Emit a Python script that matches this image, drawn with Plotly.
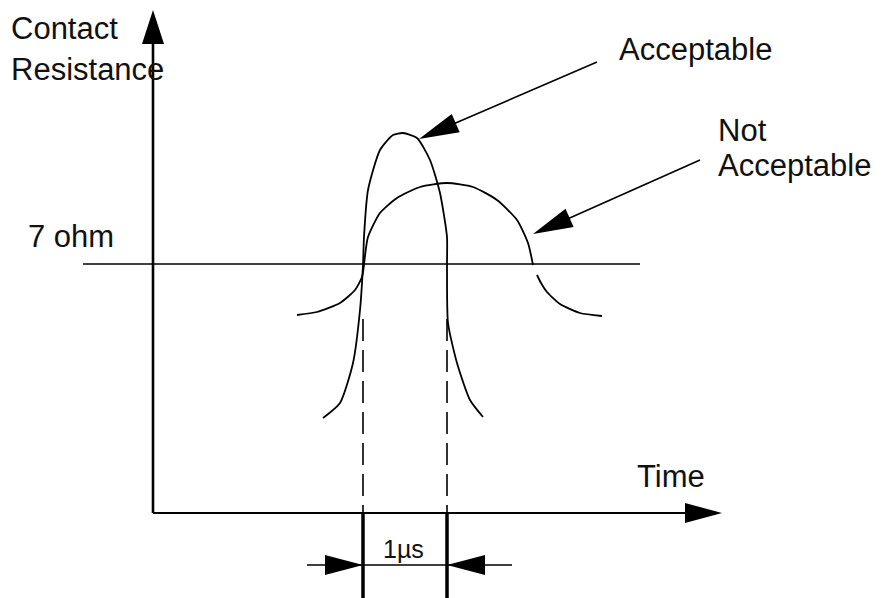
import math
import plotly.graph_objects as go

# diagram coordinates: x = time (px-like units), y = resistance (drawn top-down)
W, H = 882, 598
PAD = 8  # page body margin

# axes
origin_t, origin_r = 153, 513
y_axis_top = 10
x_axis_end = 722
threshold_r = 264
threshold_t = [83, 640]

# "Acceptable" pulse
acc_t = [323, 340, 353, 360, 363, 364, 368, 380, 393, 403, 417, 430, 440, 447, 447, 448, 457, 470, 483]
acc_r = [418, 403, 363, 310, 265, 237, 190, 150, 135, 133, 138, 160, 193, 237, 265, 323, 363, 400, 417]

# "Not Acceptable" pulse (three pieces)
na_left_t = [297, 317, 340, 355, 362, 364]
na_left_r = [315, 312, 303, 290, 277, 265]
na_arc_t = [364, 368, 380, 397, 420, 447, 473, 497, 517, 528, 533]
na_arc_r = [265, 237, 213, 198, 187, 183, 187, 200, 220, 243, 265]
na_right_t = [537, 541, 547, 560, 580, 602]
na_right_r = [275, 283, 292, 304, 313, 316]

# 1 us window
win_t = [363, 447]
dim_r = 565

FONT = "Liberation Sans"
FS = 31

fig = go.Figure()

line = dict(color="black", width=1.8)
fig.add_trace(go.Scatter(x=acc_t, y=acc_r, mode="lines", line=dict(line, shape="spline", smoothing=0.6)))
fig.add_trace(go.Scatter(x=na_left_t + [None] + na_arc_t + [None] + na_right_t,
                         y=na_left_r + [None] + na_arc_r + [None] + na_right_r,
                         mode="lines", line=dict(line, shape="spline", smoothing=0.6)))

# threshold line
fig.add_trace(go.Scatter(x=threshold_t, y=[threshold_r, threshold_r], mode="lines",
                         line=dict(color="black", width=1.6)))

# dashed window markers and thick ticks below the axis
for t in win_t:
    fig.add_trace(go.Scatter(x=[t, t], y=[threshold_r + 55, origin_r], mode="lines",
                             line=dict(color="black", width=1.6, dash="22px,9px")))
    fig.add_trace(go.Scatter(x=[t, t], y=[origin_r, H], mode="lines",
                             line=dict(color="black", width=3.5)))

# axes
fig.add_trace(go.Scatter(x=[origin_t, origin_t], y=[origin_r, y_axis_top + 25], mode="lines",
                         line=dict(color="black", width=2.6)))
fig.add_trace(go.Scatter(x=[origin_t, x_axis_end - 25], y=[origin_r, origin_r], mode="lines",
                         line=dict(color="black", width=2.2)))

# dimension line
fig.add_trace(go.Scatter(x=[307, 512], y=[dim_r, dim_r], mode="lines",
                         line=dict(color="black", width=1.4)))

# callout lines
fig.add_trace(go.Scatter(x=[597, 430], y=[62, 134], mode="lines", line=dict(color="black", width=1.6)))
fig.add_trace(go.Scatter(x=[700, 545], y=[160, 229], mode="lines", line=dict(color="black", width=1.6)))


def head(tip, frm, length, half):
    dx, dy = tip[0] - frm[0], tip[1] - frm[1]
    n = math.hypot(dx, dy)
    ux, uy = dx / n, dy / n
    bx, by = tip[0] - ux * length, tip[1] - uy * length
    px, py = -uy * half, ux * half
    return dict(type="path", xref="x", yref="y", fillcolor="black", line=dict(width=0),
                path=f"M{tip[0]},{tip[1]} L{bx + px},{by + py} L{bx - px},{by - py} Z")


shapes = [
    head((origin_t, y_axis_top), (origin_t, origin_r), 34, 11),
    head((x_axis_end, origin_r), (origin_t, origin_r), 37, 10),
    head((419, 139), (597, 62), 40, 10),
    head((533, 234), (700, 160), 40, 10),
    head((win_t[0], dim_r), (307, dim_r), 38, 10),
    head((win_t[1], dim_r), (512, dim_r), 38, 10),
]

labels = [
    ("Contact", 9, 28, FS),
    ("Resistance", 9, 69, FS),
    ("7 ohm", 26, 236, FS),
    ("Time", 635, 476, FS),
    ("Acceptable", 617, 49, FS),
    ("Not", 716, 130, FS),
    ("Acceptable", 716, 165, FS),
    ("1µs", 381, 549, 25),
]
annotations = [dict(text=s, x=x, y=y, xref="x", yref="y", xanchor="left", yanchor="middle",
                    showarrow=False, font=dict(family=FONT, size=fs, color="#111"))
               for s, x, y, fs in labels]

fig.update_layout(
    width=W - PAD, height=H - PAD, margin=dict(l=0, r=0, t=0, b=0),
    paper_bgcolor="white", plot_bgcolor="white", showlegend=False,
    xaxis=dict(range=[PAD, W], visible=False),
    yaxis=dict(range=[H, PAD], visible=False),
    shapes=shapes, annotations=annotations,
)

fig.write_html("out.html")
